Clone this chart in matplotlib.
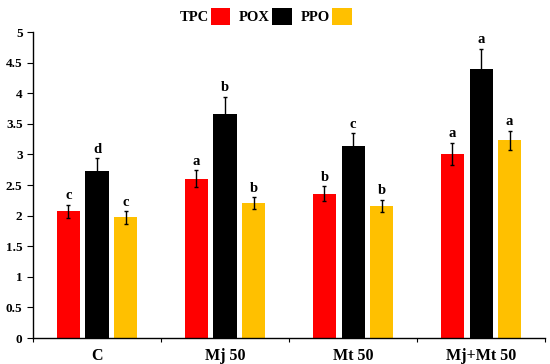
import numpy as np
import matplotlib.pyplot as plt
from matplotlib.patches import Patch

categories = ["C", "Mj 50", "Mt 50", "Mj+Mt 50"]
series = ["TPC", "POX", "PPO"]
colors = ["#FF0000", "#000000", "#FFC000"]

tpc = [2.07, 2.60, 2.36, 3.01]
pox = [2.73, 3.66, 3.13, 4.40]
ppo = [1.97, 2.20, 2.16, 3.23]

tpc_err = [0.11, 0.14, 0.12, 0.18]
pox_err = [0.21, 0.28, 0.22, 0.33]
ppo_err = [0.10, 0.10, 0.10, 0.16]

tpc_sig = ["c", "a", "b", "a"]
pox_sig = ["d", "b", "c", "a"]
ppo_sig = ["c", "b", "b", "a"]

values = [tpc, pox, ppo]
errors = [tpc_err, pox_err, ppo_err]
letters = [tpc_sig, pox_sig, ppo_sig]

plt.rcParams['font.family'] = ['Liberation Serif', 'DejaVu Serif']
plt.rcParams['font.weight'] = 'bold'

fig = plt.figure(figsize=(5.5, 3.64), dpi=100)
ax = fig.add_axes([0.06, 0.0714, 0.931, 0.8406])

x = np.arange(len(categories))
offset = 0.223
width = 0.18

# bars with error bars and significance letters
for i, (vals, errs, sigs) in enumerate(zip(values, errors, letters)):
    pos = x + (i - 1) * offset
    ax.bar(pos, vals, width, color=colors[i], zorder=2)
    ax.errorbar(pos, vals, yerr=errs, fmt='none', ecolor='black',
                elinewidth=1, capsize=1.5, capthick=1, zorder=3)
    for px, v, e, s in zip(pos, vals, errs, sigs):
        ax.text(px, v + e + 0.04, s, ha='center', va='bottom',
                fontsize=10.5, fontweight='bold')

ax.set_xlim(-0.5, 3.5)
ax.set_ylim(0, 5)
ticks = np.arange(0, 5.01, 0.5)
ax.set_yticks(ticks)
ax.set_yticklabels([f"{t:g}" for t in ticks])
ax.set_xticks(x)
ax.set_xticklabels(categories, fontsize=11.5, fontweight='bold')
ax.set_xticks(np.arange(-0.5, 3.6, 1), minor=True)
ax.tick_params(axis='x', which='major', length=0, pad=7)
ax.tick_params(axis='x', which='minor', length=3, width=0.8, direction='out')
ax.tick_params(axis='y', labelsize=9.5, length=4, width=0.8, direction='out')
for lab in ax.get_yticklabels():
    lab.set_fontweight('bold')

ax.spines['top'].set_visible(False)
ax.spines['right'].set_visible(False)
ax.spines['left'].set_linewidth(1)
ax.spines['bottom'].set_linewidth(1)

handles = [Patch(facecolor=c, edgecolor='none') for c in colors]
fig.legend(handles, series, loc='center', bbox_to_anchor=(0.483, 0.955),
           ncol=3, frameon=False, markerfirst=False,
           handlelength=1.35, handleheight=1.35, handletextpad=0.15,
           columnspacing=0.6, prop={'size': 10.5, 'weight': 'bold'})

fig.savefig("out.png", dpi=100)
